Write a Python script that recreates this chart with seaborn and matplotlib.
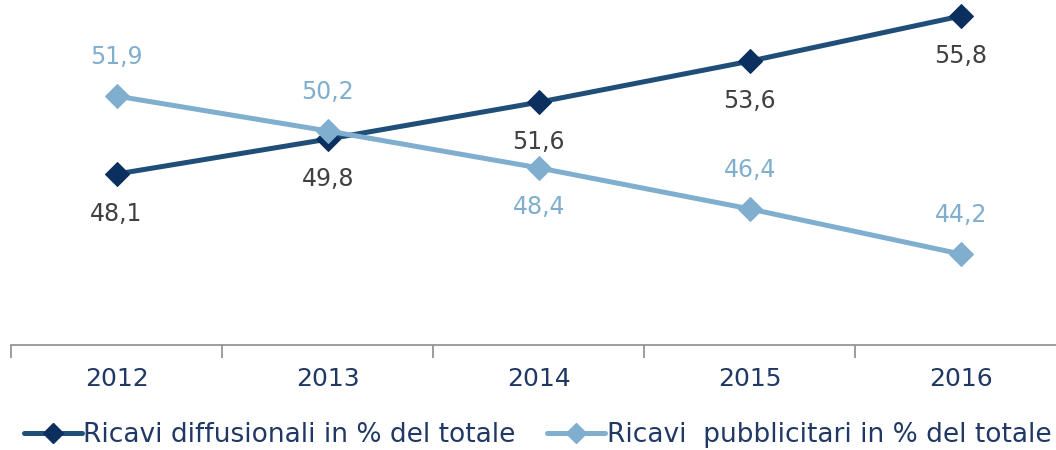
import matplotlib
matplotlib.use("Agg")
import matplotlib.pyplot as plt
import seaborn as sns
import pandas as pd
from matplotlib.ticker import FixedLocator, NullFormatter
from matplotlib.lines import Line2D

years = ["2012", "2013", "2014", "2015", "2016"]
diffusionali = [48.1, 49.8, 51.6, 53.6, 55.8]
pubblicitari = [51.9, 50.2, 48.4, 46.4, 44.2]
series_names = ["Ricavi diffusionali in % del totale", "Ricavi  pubblicitari in % del totale"]

sns.set_theme(style="white")
plt.rcParams["font.family"] = ["DejaVu Sans"]

dark = "#1F4E79"
dark_marker = "#0B2F5F"
light = "#7FAECF"
label_dark = "#404040"
tick_col = "#1F3864"

df = pd.DataFrame({
    "year": list(range(len(years))) * 2,
    "value": diffusionali + pubblicitari,
    "serie": [series_names[0]] * len(years) + [series_names[1]] * len(years),
})

fig = plt.figure(figsize=(10.56, 4.5), dpi=100)
ax = fig.add_axes([11 / 1056, 105 / 450, 1045 / 1056, 345 / 450])

sns.lineplot(data=df, x="year", y="value", hue="serie",
             palette={series_names[0]: dark, series_names[1]: light},
             marker="D", markersize=12, linewidth=3.6, ax=ax, legend=False)
lines = ax.get_lines()
lines[0].set_markerfacecolor(dark_marker)
lines[0].set_markeredgecolor(dark_marker)
lines[1].set_markerfacecolor(light)
lines[1].set_markeredgecolor(light)

ax.set_xlim(-0.5, 4.45)
ax.set_ylim(39.77, 56.58)
ax.set_yticks([])
ax.set_xlabel("")
ax.set_ylabel("")
for s in ["top", "right", "left"]:
    ax.spines[s].set_visible(False)
ax.spines["bottom"].set_color("#8C8C8C")
ax.spines["bottom"].set_linewidth(1.2)

ax.xaxis.set_major_locator(FixedLocator(range(len(years))))
ax.set_xticklabels(years, fontsize=18, color=tick_col)
ax.tick_params(axis="x", which="major", length=0, pad=16, bottom=True)
ax.xaxis.set_minor_locator(FixedLocator([i - 0.5 for i in range(len(years) + 1)]))
ax.xaxis.set_minor_formatter(NullFormatter())
ax.tick_params(axis="x", which="minor", bottom=True, length=9, width=1.2,
               color="#8C8C8C", direction="out")

def fmt(v):
    return f"{v:.1f}".replace(".", ",")

for i, v in enumerate(diffusionali):
    ax.annotate(fmt(v), (i, v), xytext=(0, -29), textcoords="offset points",
                ha="center", va="center", fontsize=17, color=label_dark)
light_pos = [1, 1, -1, 1, 1]
for i, v in enumerate(pubblicitari):
    ax.annotate(fmt(v), (i, v), xytext=(0, 28 * light_pos[i]), textcoords="offset points",
                ha="center", va="center", fontsize=17, color=light)

handles = [
    Line2D([], [], color=dark, lw=3.6, marker="D", markersize=10,
           markerfacecolor=dark_marker, markeredgecolor=dark_marker),
    Line2D([], [], color=light, lw=3.6, marker="D", markersize=10,
           markerfacecolor=light, markeredgecolor=light),
]
leg = fig.legend(handles, series_names, loc="center", bbox_to_anchor=(0.509, 1 - 435 / 450),
                 ncol=2, frameon=False, fontsize=19, handlelength=2.2, handletextpad=0.05,
                 columnspacing=1.2)
for t in leg.get_texts():
    t.set_color(tick_col)

fig.savefig("out.png", dpi=100)
